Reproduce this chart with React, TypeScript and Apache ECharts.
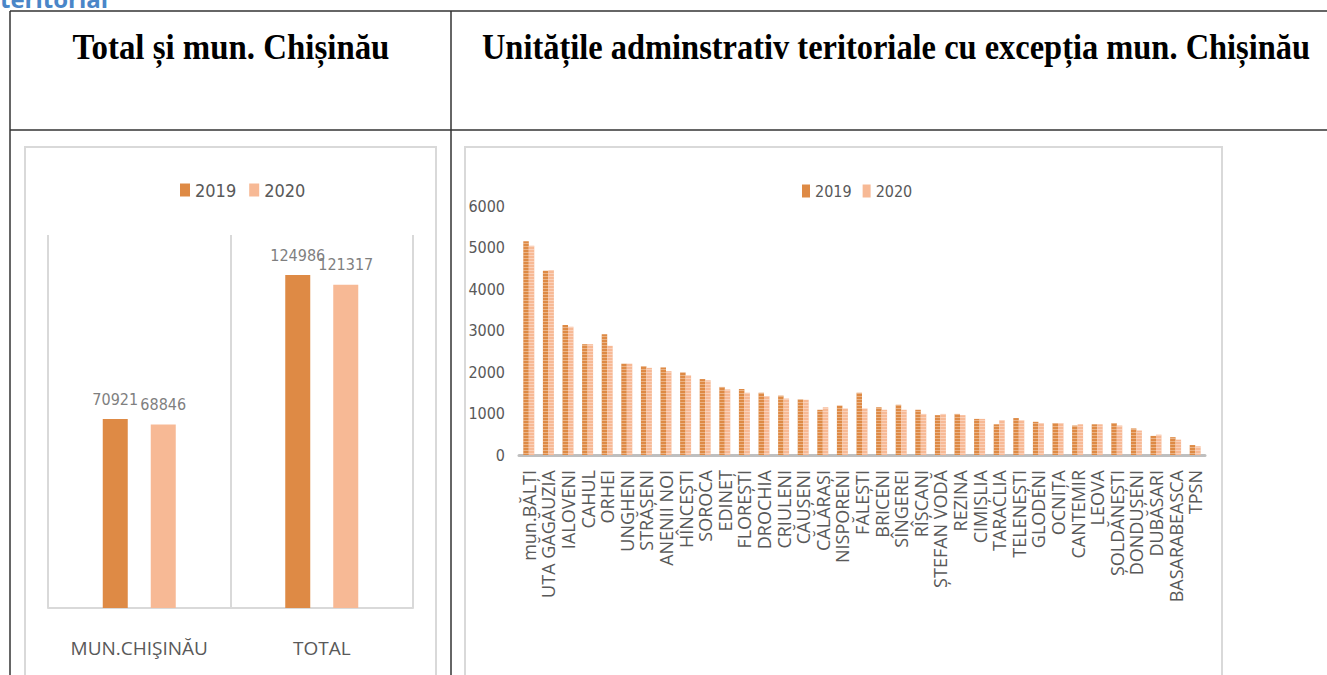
import React, { useEffect, useRef } from 'react';
import * as echarts from 'echarts';

// ---------- data ----------
const years = ['2019', '2020'];

const mainCategories = ['MUN.CHIŞINĂU', 'TOTAL'];
const main2019 = [70921, 124986];
const main2020 = [68846, 121317];

const districts = [
  'mun.BĂLȚI', 'UTA GĂGĂUZIA', 'IALOVENI', 'CAHUL', 'ORHEI', 'UNGHENI', 'STRĂȘENI',
  'ANENII NOI', 'HÎNCEȘTI', 'SOROCA', 'EDINEȚ', 'FLOREȘTI', 'DROCHIA', 'CRIULENI',
  'CĂUȘENI', 'CĂLĂRAȘI', 'NISPORENI', 'FĂLEȘTI', 'BRICENI', 'SÎNGEREI', 'RÎȘCANI',
  'ȘTEFAN VODĂ', 'REZINA', 'CIMIȘLIA', 'TARACLIA', 'TELENEȘTI', 'GLODENI', 'OCNIȚA',
  'CANTEMIR', 'LEOVA', 'ȘOLDĂNEȘTI', 'DONDUȘENI', 'DUBĂSARI', 'BASARABEASCA', 'TPSN',
];
const districts2019 = [
  5150, 4440, 3130, 2670, 2910, 2200, 2140, 2110, 1990, 1830, 1640, 1590, 1500, 1430,
  1340, 1090, 1190, 1500, 1150, 1210, 1090, 960, 990, 870, 740, 890, 800, 770,
  710, 740, 770, 640, 460, 430, 240,
];
const districts2020 = [
  5040, 4460, 3090, 2670, 2630, 2200, 2100, 2020, 1920, 1800, 1580, 1500, 1420, 1360,
  1330, 1150, 1120, 1120, 1090, 1090, 990, 990, 960, 870, 840, 840, 770, 770,
  740, 740, 710, 590, 490, 370, 210,
];

const leftMax = 140000;
const rightMax = 6000;
const rightInterval = 1000;

const cutHeading = 'teritorial';
const leftHeading = 'Total și mun. Chișinău';
const rightHeading = 'Unitățile adminstrativ teritoriale cu excepția mun. Chișinău';

// ---------- styles ----------
const c2019 = '#DE8A45';
const c2020 = '#F7B995';
const labelGrey = '#595959';
const numFont = '"Liberation Sans Narrow", "DejaVu Sans Condensed", "Noto Sans", sans-serif';
const catFont = '"Open Sans", "Noto Sans", sans-serif';
const serif = '"Liberation Serif", "Times New Roman", serif';

function measure(text: string, font: string): number {
  const ctx = document.createElement('canvas').getContext('2d');
  if (!ctx) return text.length * 14;
  ctx.font = font;
  return ctx.measureText(text).width;
}

const stripe = {
  symbol: 'rect',
  symbolSize: 1,
  dashArrayX: [1, 0],
  dashArrayY: [1, 2],
  rotation: 0,
  color: 'rgba(255,255,255,0.35)',
};
const noStripe = {
  symbol: 'rect',
  symbolSize: 1,
  dashArrayX: [1, 0],
  dashArrayY: [1, 0],
  rotation: 0,
  color: 'rgba(255,255,255,0)',
};

export default function App() {
  const ref = useRef<HTMLDivElement>(null);

  useEffect(() => {
    if (!ref.current) return;
    const chart = echarts.init(ref.current, undefined, { renderer: 'svg' });

    const headFont = `bold 32px ${serif}`;
    const leftW = measure(leftHeading, headFont);
    const rightW = measure(rightHeading, headFont);
    const scaleY = 1.15;

    const option: any = {
      animation: false,
      aria: { enabled: true, decal: { show: true } },
      graphic: [
        {
          type: 'text', x: 0, y: -2, z: 10,
          style: { text: cutHeading, font: `bold 24px ${catFont}`, fill: '#4A86C8', textVerticalAlign: 'middle', verticalAlign: 'middle' },
        },
        { type: 'line', shape: { x1: 10, y1: 11, x2: 1340, y2: 11 }, style: { stroke: '#333', lineWidth: 1.5 } },
        { type: 'line', shape: { x1: 10, y1: 11, x2: 10, y2: 700 }, style: { stroke: '#333', lineWidth: 1.5 } },
        { type: 'line', shape: { x1: 451, y1: 11, x2: 451, y2: 700 }, style: { stroke: '#333', lineWidth: 1.5 } },
        { type: 'line', shape: { x1: 10, y1: 130, x2: 1340, y2: 130 }, style: { stroke: '#333', lineWidth: 1.5 } },
        {
          type: 'text', x: 231, y: 47, scaleX: 317 / leftW, scaleY,
          style: { text: leftHeading, font: headFont, fill: '#000', textAlign: 'center', align: 'center', textVerticalAlign: 'middle', verticalAlign: 'middle' },
        },
        {
          type: 'text', x: 896, y: 47, scaleX: 828 / rightW, scaleY,
          style: { text: rightHeading, font: headFont, fill: '#000', textAlign: 'center', align: 'center', textVerticalAlign: 'middle', verticalAlign: 'middle' },
        },
        { type: 'rect', shape: { x: 25, y: 147, width: 411, height: 600 }, style: { fill: 'none', stroke: '#D9D9D9', lineWidth: 2 } },
        { type: 'rect', shape: { x: 465, y: 147, width: 757, height: 600 }, style: { fill: 'none', stroke: '#D9D9D9', lineWidth: 2 } },
      ],
      legend: [
        {
          data: [
            { name: years[0], itemStyle: { color: c2019, decal: noStripe } },
            { name: years[1], itemStyle: { color: c2020, decal: noStripe } },
          ],
          left: 175, top: 176, itemWidth: 10, itemHeight: 13, itemGap: 13,
          icon: 'rect',
          textStyle: { color: labelGrey, fontSize: 18, fontFamily: numFont },
        },
        {
          data: years,
          left: 797, top: 178, itemWidth: 8, itemHeight: 13, itemGap: 11,
          icon: 'rect',
          textStyle: { color: labelGrey, fontSize: 16, fontFamily: numFont },
        },
      ],
      grid: [
        { left: 48, top: 235, width: 365, height: 373, containLabel: false },
        { left: 519, top: 206, width: 686, height: 249, containLabel: false },
      ],
      xAxis: [
        {
          type: 'category', gridIndex: 0, data: mainCategories,
          axisLine: { lineStyle: { color: '#D9D9D9', width: 2 } },
          axisTick: { show: false },
          splitLine: { show: true, lineStyle: { color: '#D9D9D9', width: 2 } },
          axisLabel: { color: labelGrey, fontSize: 19, margin: 30, fontFamily: catFont },
        },
        {
          type: 'category', gridIndex: 1, data: districts,
          axisLine: { lineStyle: { color: '#BFBFBF', width: 3 } },
          axisTick: { show: false },
          axisLabel: { color: labelGrey, fontSize: 18, rotate: 90, interval: 0, margin: 15, fontFamily: catFont },
        },
      ],
      yAxis: [
        { type: 'value', gridIndex: 0, min: 0, max: leftMax, show: false },
        {
          type: 'value', gridIndex: 1, min: 0, max: rightMax, interval: rightInterval,
          axisLine: { show: false }, axisTick: { show: false }, splitLine: { show: false },
          axisLabel: {
            color: labelGrey, fontSize: 16, margin: 14, fontFamily: numFont,
            formatter: (v: number) => String(v),
          },
        },
      ],
      series: [
        {
          type: 'bar', name: years[0], xAxisIndex: 0, yAxisIndex: 0, data: main2019,
          barWidth: 25, barGap: '92%',
          itemStyle: { color: c2019, decal: noStripe },
          label: { show: true, position: 'top', distance: 12, color: '#7F7F7F', fontSize: 16, fontFamily: numFont },
        },
        {
          type: 'bar', name: years[1], xAxisIndex: 0, yAxisIndex: 0, data: main2020,
          barWidth: 25, barGap: '92%',
          itemStyle: { color: c2020, decal: noStripe },
          label: { show: true, position: 'top', distance: 12, color: '#7F7F7F', fontSize: 16, fontFamily: numFont },
        },
        {
          type: 'bar', name: years[0], xAxisIndex: 1, yAxisIndex: 1, data: districts2019,
          barWidth: 5.5, barGap: '0%',
          itemStyle: { color: c2019, decal: stripe },
        },
        {
          type: 'bar', name: years[1], xAxisIndex: 1, yAxisIndex: 1, data: districts2020,
          barWidth: 5.5, barGap: '0%',
          itemStyle: { color: c2020, decal: stripe },
        },
      ],
    };

    chart.setOption(option);
    return () => chart.dispose();
  }, []);

  return (
    <div
      ref={ref}
      style={{ position: 'absolute', left: 0, top: 0, width: 1327, height: 675, background: '#fff' }}
    />
  );
}
